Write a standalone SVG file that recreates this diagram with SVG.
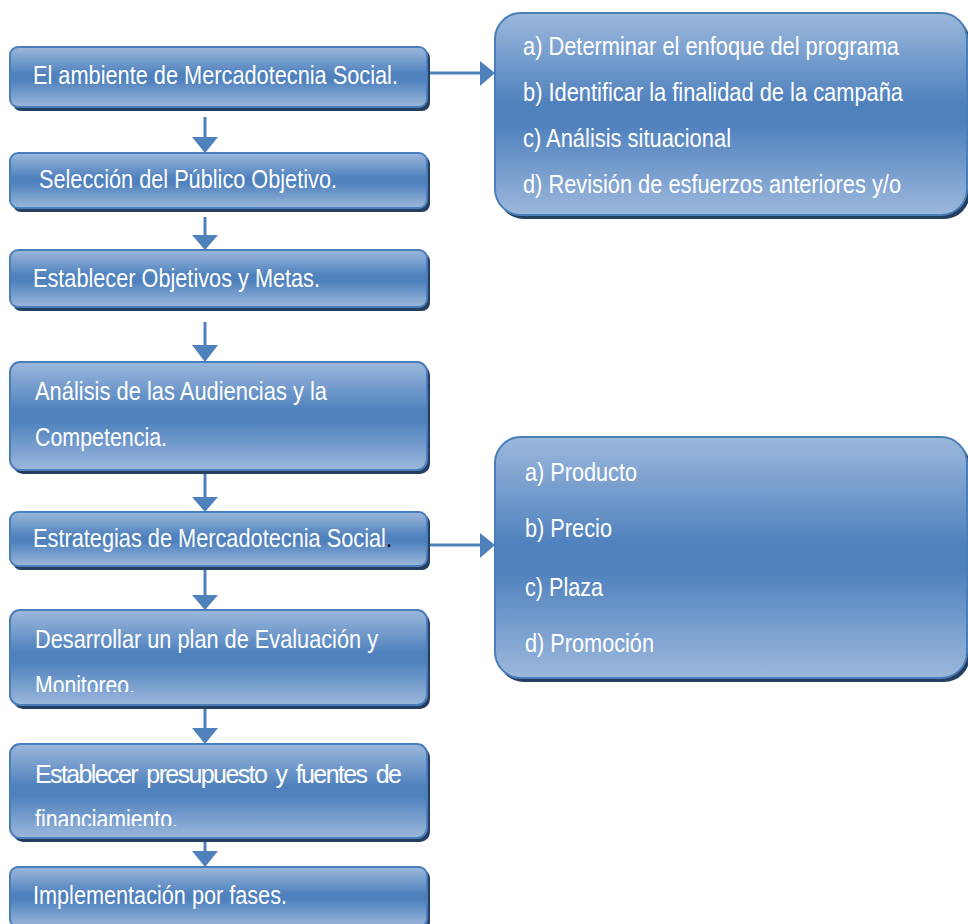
<svg xmlns="http://www.w3.org/2000/svg" width="968" height="924" viewBox="0 0 968 924">
<defs>
<linearGradient id="g" x1="0" y1="0" x2="0" y2="1">
<stop offset="0" stop-color="#9cb8dc"/>
<stop offset="0.45" stop-color="#4f81bd"/>
<stop offset="0.55" stop-color="#4f81bd"/>
<stop offset="1" stop-color="#9cb8dc"/>
</linearGradient>
<clipPath id="c6"><rect x="0" y="600" width="440" height="92"/></clipPath>
<clipPath id="c7"><rect x="0" y="740" width="440" height="86"/></clipPath>
</defs>
<style>
.sh{fill:#243f60}
.bx{fill:url(#g);stroke:#4a7ebb;stroke-width:2}
.t{font-family:"Liberation Sans","Arial",sans-serif;font-size:25px;fill:#ffffff}
.ln{stroke:#4f81bd;stroke-width:3;fill:none}
.ah{fill:#4f81bd}
</style>
<g id="connectors">
<line class="ln" x1="205" y1="117" x2="205" y2="140"/><polygon class="ah" points="192,137 218,137 205,153"/>
<line class="ln" x1="205" y1="217" x2="205" y2="238"/><polygon class="ah" points="192,235 218,235 205,250"/>
<line class="ln" x1="205" y1="322" x2="205" y2="348"/><polygon class="ah" points="192,345 218,345 205,362"/>
<line class="ln" x1="205" y1="470" x2="205" y2="500"/><polygon class="ah" points="192,497 218,497 205,512"/>
<line class="ln" x1="205" y1="566" x2="205" y2="598"/><polygon class="ah" points="192,595 218,595 205,610"/>
<line class="ln" x1="205" y1="705" x2="205" y2="731"/><polygon class="ah" points="192,728 218,728 205,744"/>
<line class="ln" x1="205" y1="838" x2="205" y2="854"/><polygon class="ah" points="192,851 218,851 205,867"/>
<line class="ln" x1="427" y1="73" x2="482" y2="73"/><polygon class="ah" points="480,61 480,86 495,73"/>
<line class="ln" x1="427" y1="545" x2="482" y2="545"/><polygon class="ah" points="480,533 480,558 495,545"/>
</g>
<g id="n1"><rect class="sh" x="13" y="50" width="417" height="61" rx="8"/><rect class="bx" x="10" y="47" width="417" height="60" rx="8"/><text class="t" x="33" y="84" textLength="365" lengthAdjust="spacingAndGlyphs">El ambiente de Mercadotecnia Social.</text></g>
<g id="n2"><rect class="sh" x="13" y="156" width="417" height="56" rx="8"/><rect class="bx" x="10" y="153" width="417" height="55" rx="8"/><text class="t" x="39" y="188" textLength="298" lengthAdjust="spacingAndGlyphs">Selección del Público Objetivo.</text></g>
<g id="n3"><rect class="sh" x="13" y="253" width="417" height="58" rx="8"/><rect class="bx" x="10" y="250" width="417" height="57" rx="8"/><text class="t" x="33" y="287" textLength="287" lengthAdjust="spacingAndGlyphs">Establecer Objetivos y Metas.</text></g>
<g id="n4"><rect class="sh" x="13" y="365" width="417" height="109" rx="10"/><rect class="bx" x="10" y="362" width="417" height="108" rx="10"/><text class="t" x="35" y="400" textLength="292" lengthAdjust="spacingAndGlyphs">Análisis de las Audiencias y la</text><text class="t" x="35" y="446" textLength="132" lengthAdjust="spacingAndGlyphs">Competencia.</text></g>
<g id="n5"><rect class="sh" x="13" y="515" width="417" height="55" rx="8"/><rect class="bx" x="10" y="512" width="417" height="54" rx="8"/><text class="t" x="33" y="547" textLength="359" lengthAdjust="spacingAndGlyphs">Estrategias de Mercadotecnia Social<tspan style="fill:#000000">.</tspan></text></g>
<g id="n6"><rect class="sh" x="13" y="613" width="417" height="96" rx="10"/><rect class="bx" x="10" y="610" width="417" height="95" rx="10"/><text class="t" x="35" y="648" textLength="343" lengthAdjust="spacingAndGlyphs">Desarrollar un plan de Evaluación y</text><text class="t" x="35" y="694" textLength="100" lengthAdjust="spacingAndGlyphs" clip-path="url(#c6)">Monitoreo.</text></g>
<g id="n7"><rect class="sh" x="13" y="747" width="417" height="95" rx="10"/><rect class="bx" x="10" y="744" width="417" height="94" rx="10"/><text class="t" x="35" y="783" textLength="367" lengthAdjust="spacing" style="word-spacing:4px">Establecer presupuesto y fuentes de</text><text class="t" x="35" y="828" textLength="143" lengthAdjust="spacingAndGlyphs" clip-path="url(#c7)">financiamiento.</text></g>
<g id="n8"><rect class="sh" x="13" y="870" width="417" height="60" rx="8"/><rect class="bx" x="10" y="867" width="417" height="60" rx="8"/><text class="t" x="33" y="904" textLength="254" lengthAdjust="spacingAndGlyphs">Implementación por fases.</text></g>
<g id="r1"><rect class="sh" x="498" y="16" width="472" height="203" rx="26"/><rect class="bx" x="495" y="13" width="472" height="202" rx="26"/>
<text class="t" x="523" y="55" textLength="376" lengthAdjust="spacingAndGlyphs">a) Determinar el enfoque del programa</text>
<text class="t" x="523" y="101" textLength="380" lengthAdjust="spacingAndGlyphs">b) Identificar la finalidad de la campaña</text>
<text class="t" x="523" y="147" textLength="208" lengthAdjust="spacingAndGlyphs">c) Análisis situacional</text>
<text class="t" x="523" y="193" textLength="378" lengthAdjust="spacingAndGlyphs">d) Revisión de esfuerzos anteriores y/o</text></g>
<g id="r2"><rect class="sh" x="498" y="440" width="472" height="242" rx="26"/><rect class="bx" x="495" y="437" width="472" height="241" rx="26"/>
<text class="t" x="525" y="481" textLength="112" lengthAdjust="spacingAndGlyphs">a) Producto</text>
<text class="t" x="525" y="537" textLength="87" lengthAdjust="spacingAndGlyphs">b) Precio</text>
<text class="t" x="525" y="596" textLength="78" lengthAdjust="spacingAndGlyphs">c) Plaza</text>
<text class="t" x="525" y="652" textLength="129" lengthAdjust="spacingAndGlyphs">d) Promoción</text></g>
</svg>
